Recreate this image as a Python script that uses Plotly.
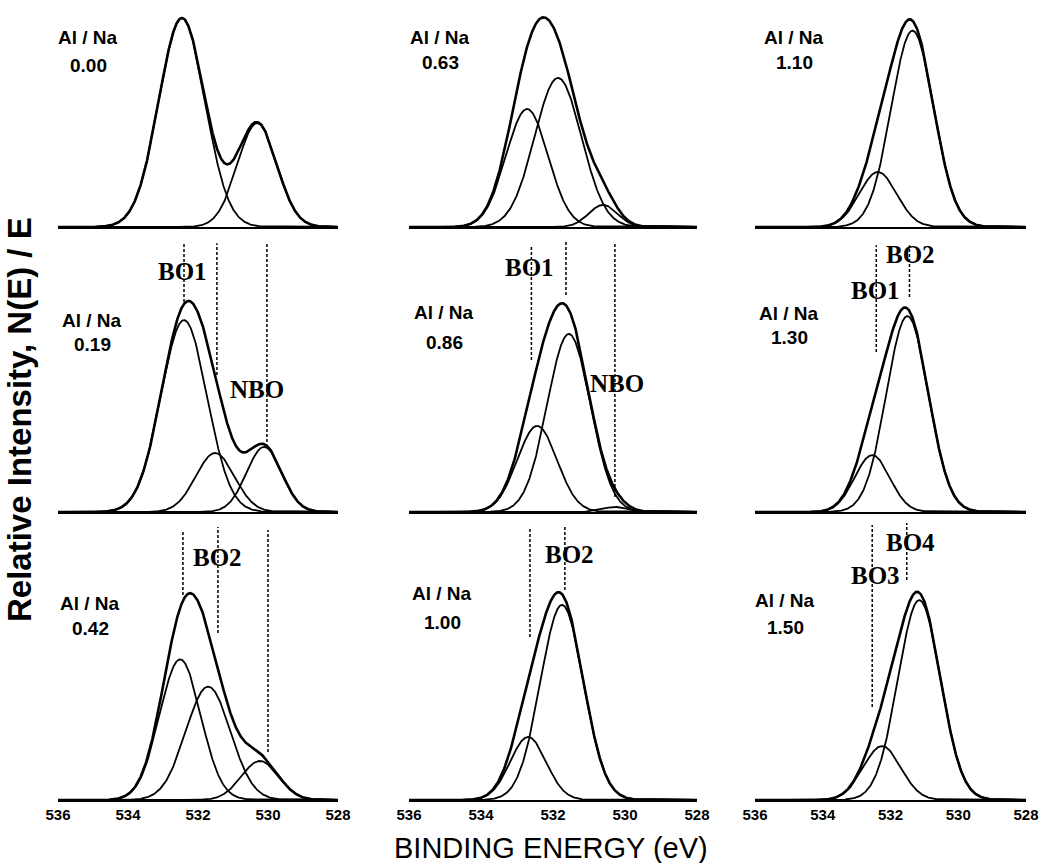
import numpy as np
import plotly.graph_objects as go

W, H = 1041, 863

# ---------------- data ----------------
ratios = ["0.00", "0.63", "1.10", "0.19", "0.86", "1.30", "0.42", "1.00", "1.50"]

# fitted O1s components per panel: centre (eV), height (relative), FWHM (eV)
p1_center = [532.46, 530.31]
p1_height = [0.995, 0.495]
p1_fwhm = [1.55, 1.32]

p2_center = [532.72, 531.86, 530.61]
p2_height = [0.562, 0.710, 0.105]
p2_fwhm = [1.37, 1.53, 0.94]

p3_center = [531.35, 532.37]
p3_height = [0.935, 0.262]
p3_fwhm = [1.48, 1.30]

p4_center = [532.40, 531.51, 530.11]
p4_height = [0.914, 0.281, 0.310]
p4_fwhm = [1.55, 1.30, 1.18]

p5_center = [532.44, 531.56, 530.28]
p5_height = [0.410, 0.848, 0.024]
p5_fwhm = [1.30, 1.41, 0.82]

p6_center = [531.50, 532.54]
p6_height = [0.933, 0.271]
p6_fwhm = [1.46, 1.22]

p7_center = [532.51, 531.71, 530.23]
p7_height = [0.670, 0.540, 0.186]
p7_fwhm = [1.38, 1.50, 1.25]

p8_center = [531.75, 532.69]
p8_height = [0.929, 0.300]
p8_fwhm = [1.41, 1.18]

p9_center = [531.15, 532.25]
p9_height = [0.952, 0.257]
p9_fwhm = [1.48, 1.30]

# dashed reference lines: energy, top, bottom (relative intensity)
m4_energy = [532.40, 531.46, 530.03]
m4_top = [1.28, 1.28, 1.28]
m4_bottom = [1.00, 0.652, 0.333]
m5_energy = [532.60, 531.64, 530.28]
m5_top = [1.27, 1.295, 1.286]
m5_bottom = [0.724, 1.033, 0.071]
m6_energy = [532.42, 531.44]
m6_top = [1.27, 1.27]
m6_bottom = [0.762, 1.024]
m7_energy = [532.43, 531.43, 530.00]
m7_top = [1.286, 1.30, 1.286]
m7_bottom = [0.976, 0.795, 0.229]
m8_energy = [532.64, 531.67]
m8_top = [1.295, 1.31]
m8_bottom = [0.776, 1.00]
m9_energy = [532.54, 531.52]
m9_top = [1.31, 1.319]
m9_bottom = [0.443, 1.048]

# peak labels: text, energy, height
l4_text = ["BO1", "NBO"]; l4_x = [532.43, 530.31]; l4_y = [1.143, 0.581]
l5_text = ["BO1", "NBO"]; l5_x = [532.64, 530.22]; l5_y = [1.162, 0.614]
l6_text = ["BO2", "BO1"]; l6_x = [531.40, 532.45]; l6_y = [1.224, 1.057]
l7_text = ["BO2"]; l7_x = [531.43]; l7_y = [1.157]
l8_text = ["BO2"]; l8_x = [531.55]; l8_y = [1.167]
l9_text = ["BO4", "BO3"]; l9_x = [531.40, 532.45]; l9_y = [1.224, 1.071]

x_ticks = [536, 534, 532, 530, 528]

centers = [p1_center, p2_center, p3_center, p4_center, p5_center, p6_center, p7_center, p8_center, p9_center]
heights = [p1_height, p2_height, p3_height, p4_height, p5_height, p6_height, p7_height, p8_height, p9_height]
fwhms = [p1_fwhm, p2_fwhm, p3_fwhm, p4_fwhm, p5_fwhm, p6_fwhm, p7_fwhm, p8_fwhm, p9_fwhm]
marks = [None, None, None,
         (m4_energy, m4_top, m4_bottom), (m5_energy, m5_top, m5_bottom), (m6_energy, m6_top, m6_bottom),
         (m7_energy, m7_top, m7_bottom), (m8_energy, m8_top, m8_bottom), (m9_energy, m9_top, m9_bottom)]
labels = [None, None, None,
          (l4_text, l4_x, l4_y), (l5_text, l5_x, l5_y), (l6_text, l6_x, l6_y),
          (l7_text, l7_x, l7_y), (l8_text, l8_x, l8_y), (l9_text, l9_x, l9_y)]

# ---------------- layout (pixels) ----------------
col_px = [(58, 338), (409, 697), (755, 1026)]
row_base = [227, 512, 800]
row_top = [0, 232, 520]
UNIT = 210.0  # px per relative-intensity unit
ratio_pos = [(88, 37, 65), (440, 37, 63), (794, 37, 63),
             (92, 320, 345), (444, 312, 342), (789, 313, 337),
             (90, 603, 628), (442, 593, 622), (785, 600, 627)]

def px_x(p):
    return p / W

def px_y(p):
    return 1 - p / H

grid = np.linspace(528, 536, 801)

def gauss(x, c, h, f):
    s = f / 2.3548
    return h * np.exp(-(x - c) ** 2 / (2 * s * s))

fig = go.Figure()
annotations = []
layout = {}

for i in range(9):
    r, c = divmod(i, 3)
    k = i + 1
    xa = "x" if k == 1 else f"x{k}"
    ya = "y" if k == 1 else f"y{k}"
    x0, x1 = col_px[c]
    yb, yt = row_base[r], row_top[r]
    layout[f"xaxis{k}"] = dict(
        domain=[px_x(x0), px_x(x1)], range=[536, 528], anchor=ya,
        showline=True, linecolor="black", linewidth=2, showgrid=False, zeroline=False,
        tickvals=x_ticks, ticktext=[str(t) for t in x_ticks],
        showticklabels=(r == 2), ticks="",
        tickfont=dict(family="Liberation Sans, Arial", size=15, color="black", weight="bold"),
    )
    layout[f"yaxis{k}"] = dict(
        domain=[px_y(yb), px_y(yt)], range=[0, (yb - yt) / UNIT], anchor=xa,
        visible=False, showgrid=False, zeroline=False,
    )
    env = np.zeros_like(grid)
    for cc, hh, ff in zip(centers[i], heights[i], fwhms[i]):
        comp = gauss(grid, cc, hh, ff)
        env += comp
        fig.add_trace(go.Scatter(x=grid, y=comp, mode="lines", xaxis=xa, yaxis=ya,
                                 line=dict(color="black", width=1.8), showlegend=False,
                                 hoverinfo="skip"))
    fig.add_trace(go.Scatter(x=grid, y=env, mode="lines", xaxis=xa, yaxis=ya,
                             line=dict(color="black", width=2.6), showlegend=False,
                             hoverinfo="skip"))
    if marks[i] is not None:
        for e, t, b in zip(*marks[i]):
            fig.add_trace(go.Scatter(x=[e, e], y=[b, t], mode="lines", xaxis=xa, yaxis=ya,
                                     line=dict(color="black", width=1.5, dash="3px,2px"),
                                     showlegend=False, hoverinfo="skip", cliponaxis=False))
    if labels[i] is not None:
        for txt, lx, ly in zip(*labels[i]):
            annotations.append(dict(x=lx, y=ly, xref=xa, yref=ya, text=txt, showarrow=False,
                                    xanchor="center", yanchor="middle",
                                    font=dict(family="Liberation Serif, DejaVu Serif, serif",
                                              size=25, color="black", weight="bold")))
    cx, y1, y2 = ratio_pos[i]
    for ty, tt in ((y1, "Al / Na"), (y2, ratios[i])):
        annotations.append(dict(x=px_x(cx), y=px_y(ty), xref="paper", yref="paper", text=tt,
                                showarrow=False, xanchor="center", yanchor="middle",
                                font=dict(family="Liberation Sans, Arial", size=19,
                                          color="black", weight="bold")))

annotations.append(dict(x=px_x(551), y=px_y(848), xref="paper", yref="paper",
                        text="BINDING ENERGY (eV)", showarrow=False,
                        xanchor="center", yanchor="middle",
                        font=dict(family="Liberation Sans, Arial", size=29, color="black")))
annotations.append(dict(x=px_x(19), y=px_y(420), xref="paper", yref="paper",
                        text="Relative Intensity, N(E) / E", showarrow=False, textangle=-90,
                        xanchor="center", yanchor="middle",
                        font=dict(family="Liberation Sans, Arial", size=33, color="black",
                                  weight="bold")))

fig.update_layout(width=W, height=H, margin=dict(l=0, r=0, t=0, b=0, autoexpand=False),
                  paper_bgcolor="white", plot_bgcolor="white", showlegend=False,
                  annotations=annotations, **layout)

fig.write_html("out.html", config={"displayModeBar": False},
               post_script="document.body.style.margin='0px';document.body.style.overflow='hidden';")
